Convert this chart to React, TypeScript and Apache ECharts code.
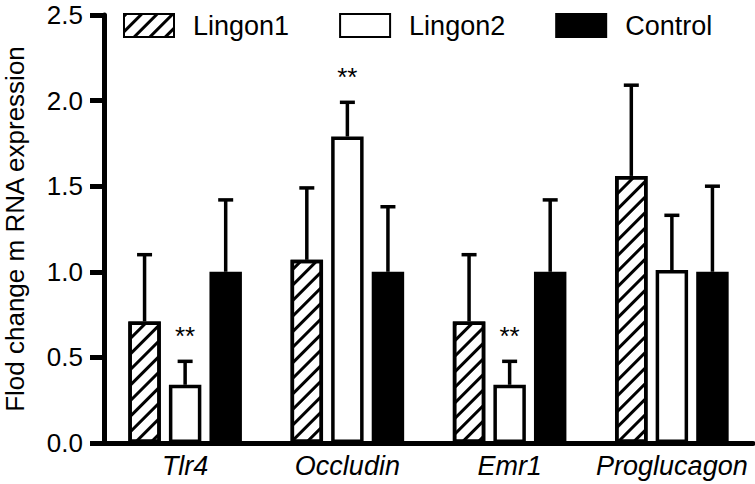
import React, { useEffect, useRef } from "react";
import * as echarts from "echarts";

const categories = ["Tlr4", "Occludin", "Emr1", "Proglucagon"];
const seriesNames = ["Lingon1", "Lingon2", "Control"];
const lingon1 = [0.71, 1.07, 0.71, 1.56];
const lingon1Err = [1.10, 1.49, 1.10, 2.09];
const lingon2 = [0.34, 1.79, 0.34, 1.01];
const lingon2Err = [0.477, 1.99, 0.477, 1.33];
const control = [1.0, 1.0, 1.0, 1.0];
const controlErr = [1.42, 1.38, 1.42, 1.50];
const lingon2Sig = ["**", "**", "**", ""];
const yTicks = [0, 0.5, 1.0, 1.5, 2.0, 2.5];

const FONT = "Liberation Sans";
const BAR_FRAC = 0.2;
const GAP_FRAC = 0.25;

function makeErrSeries(idx: number, vals: number[], errs: number[], sig?: string[]) {
  return {
    type: "custom",
    name: seriesNames[idx] + " err",
    z: 1,
    silent: true,
    data: vals.map((v, i) => [i, v, errs[i]]),
    renderItem: (params: any, api: any) => {
      const ci = api.value(0);
      const v = api.value(1);
      const e = api.value(2);
      const base = api.coord([ci, v]);
      const top = api.coord([ci, e]);
      const band = api.size([1, 0])[0];
      const bw = band * BAR_FRAC;
      const cx = base[0] + (idx - 1) * bw * (1 + GAP_FRAC);
      const children: any[] = [
        { type: "line", shape: { x1: cx, y1: base[1], x2: cx, y2: top[1] }, style: { stroke: "#000", lineWidth: 3.5 } },
        { type: "line", shape: { x1: cx - 7.5, y1: top[1], x2: cx + 7.5, y2: top[1] }, style: { stroke: "#000", lineWidth: 3.5 } },
      ];
      const s = sig ? sig[params.dataIndex] : "";
      if (s) {
        children.push({
          type: "text",
          style: {
            text: s, x: cx, y: top[1] - 38, align: "center", verticalAlign: "top",
            font: `26px "${FONT}"`, fill: "#000",
          },
        });
      }
      return { type: "group", children };
    },
  };
}

export default function App() {
  const ref = useRef<HTMLDivElement>(null);
  useEffect(() => {
    const chart = echarts.init(ref.current!, null, { renderer: "svg" });
    const barBase = {
      type: "bar",
      barWidth: `${BAR_FRAC * 100}%`,
      barGap: `${GAP_FRAC * 100}%`,
      z: 2,
    };
    chart.setOption({
      animation: false,
      backgroundColor: "#fff",
      textStyle: { fontFamily: FONT, color: "#000" },
      legend: {
        data: seriesNames,
        left: 118,
        top: 7,
        itemWidth: 50,
        itemHeight: 23,
        itemGap: 50,
        icon: "rect",
        textStyle: { fontSize: 27, color: "#000", fontFamily: FONT, padding: [0, 0, 0, 14] },
      },
      grid: { left: 104, right: 2, top: 15, bottom: 41, containLabel: false, outerBoundsMode: "none" },
      xAxis: {
        type: "category",
        data: categories,
        axisLine: { lineStyle: { color: "#000", width: 5 } },
        axisTick: { show: false },
        axisLabel: { fontSize: 27, fontStyle: "italic", color: "#000", margin: 9, fontFamily: FONT, interval: 0 },
      },
      yAxis: {
        type: "value",
        min: 0,
        max: 2.5,
        interval: 0.5,
        name: "Flod change m RNA expression",
        nameLocation: "middle",
        nameGap: 76,
        nameTextStyle: { fontSize: 26, lineHeight: 26, color: "#000", fontFamily: FONT },
        axisLine: { show: true, lineStyle: { color: "#000", width: 5 } },
        axisTick: { show: true, length: 14, lineStyle: { color: "#000", width: 5 } },
        axisLabel: {
          fontSize: 26, lineHeight: 24, color: "#000", margin: 21, fontFamily: FONT,
          formatter: (v: number) => (yTicks.includes(v) ? v.toFixed(1) : ""),
        },
        splitLine: { show: false },
      },
      series: [
        {
          ...barBase,
          name: "Lingon1",
          data: lingon1,
          itemStyle: {
            color: "#fff",
            borderColor: "#000",
            borderWidth: 3.5,
            decal: {
              symbol: "rect",
              symbolSize: 1,
              color: "#000",
              dashArrayX: [1, 0],
              dashArrayY: [3, 8],
              rotation: -Math.PI / 4,
            },
          },
        },
        {
          ...barBase,
          name: "Lingon2",
          data: lingon2,
          itemStyle: { color: "#fff", borderColor: "#000", borderWidth: 3.5 },
        },
        {
          ...barBase,
          name: "Control",
          data: control,
          itemStyle: { color: "#000", borderColor: "#000", borderWidth: 3.5 },
        },
        makeErrSeries(0, lingon1, lingon1Err),
        makeErrSeries(1, lingon2, lingon2Err, lingon2Sig),
        makeErrSeries(2, control, controlErr),
      ],
    });
    return () => chart.dispose();
  }, []);
  return (
    <div
      ref={ref}
      style={{ position: "fixed", left: 0, top: 0, width: 755, height: 484, background: "#fff" }}
    />
  );
}
